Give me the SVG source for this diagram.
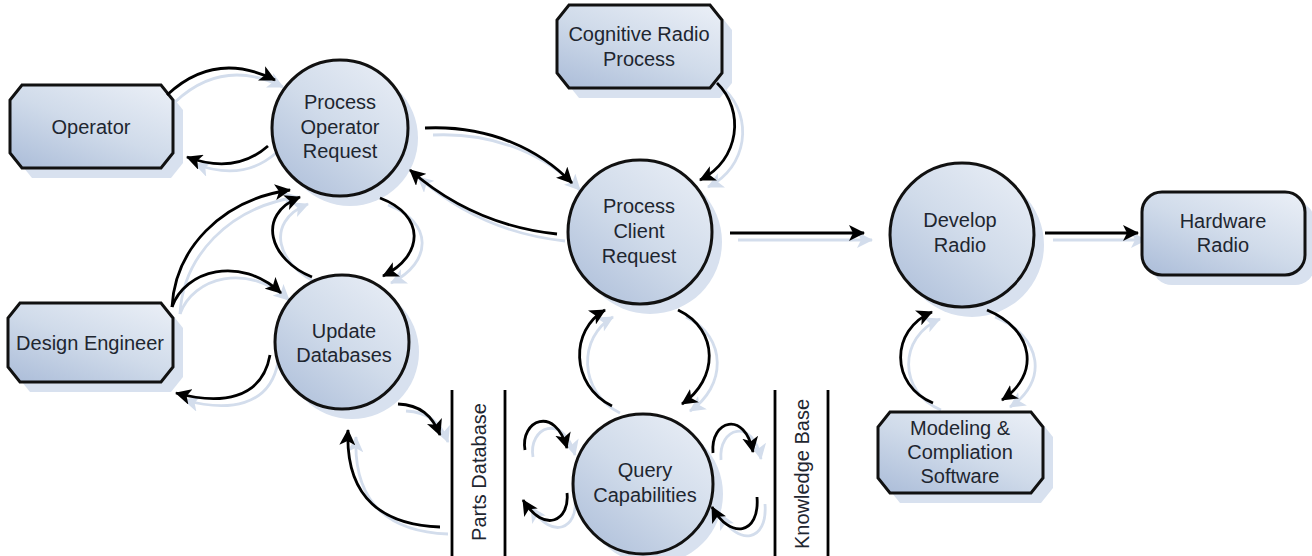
<svg xmlns="http://www.w3.org/2000/svg" width="1312" height="556" viewBox="0 0 1312 556">
<defs>
<linearGradient id="fill" x1="0.9" y1="0" x2="0.1" y2="1">
<stop offset="0" stop-color="#e9eef6"/>
<stop offset="0.5" stop-color="#d0dbea"/>
<stop offset="1" stop-color="#aebfda"/>
</linearGradient>
<marker id="ah" markerWidth="18" markerHeight="16" refX="15" refY="8" orient="auto" markerUnits="userSpaceOnUse">
<path d="M0,0 L16,8 L0,16 L4,8 z" fill="#000"/>
</marker>
<marker id="ahs" markerWidth="18" markerHeight="16" refX="15" refY="8" orient="auto" markerUnits="userSpaceOnUse">
<path d="M0,0 L16,8 L0,16 L4,8 z" fill="#d3ddec"/>
</marker>
</defs>
<style>
.shape{fill:url(#fill);stroke:#111;stroke-width:3}
.shadow{fill:#d8e1ef;stroke:none}
.lbl{font-family:"Liberation Sans",Arial,sans-serif;font-size:20px;fill:#1e2630;text-anchor:middle;dominant-baseline:central}
.c{fill:none;stroke:#000;stroke-width:2.8;marker-end:url(#ah)}
.cs{fill:none;stroke:#d3ddec;stroke-width:2.8;marker-end:url(#ahs)}
.bar{stroke:#000;stroke-width:2.8}
</style>
<rect width="1312" height="556" fill="#fff"/>

<g id="connector-shadows" transform="translate(8,7)">
<path class="cs" d="M167,95 Q215,50 275,80"/>
<path class="cs" d="M268,146 Q235,175 187,157"/>
<path class="cs" d="M172,307 C175,250 220,200 290,190"/>
<path class="cs" d="M172,307 C185,270 240,255 281,293"/>
<path class="cs" d="M312,277 C270,260 255,215 300,197"/>
<path class="cs" d="M380,198 C425,215 425,255 383,276"/>
<path class="cs" d="M270,355 C262,400 220,405 176,393"/>
<path class="cs" d="M440,527 C385,525 345,500 348,430"/>
<path class="cs" d="M398,404 C420,405 432,415 440,435"/>
<path class="cs" d="M425,128 C490,125 540,150 572,183"/>
<path class="cs" d="M557,234 C500,228 450,205 410,170"/>
<path class="cs" d="M717,83 C745,110 740,160 700,180"/>
<path class="cs" d="M730,233 L864,233"/>
<path class="cs" d="M1045,233 L1138,233"/>
<path class="cs" d="M678,310 C720,330 718,380 682,404"/>
<path class="cs" d="M612,406 C570,385 570,330 605,310"/>
<path class="cs" d="M525,450 C520,420 555,405 567,448"/>
<path class="cs" d="M567,493 C570,520 545,535 523,500"/>
<path class="cs" d="M713,453 C710,420 745,410 753,452"/>
<path class="cs" d="M757,497 C760,535 730,540 712,507"/>
<path class="cs" d="M987,310 C1035,330 1040,375 1002,400"/>
<path class="cs" d="M933,403 C890,385 890,330 932,312"/>
</g>

<g id="shadows">
<polygon class="shadow" transform="translate(10,10)" points="22,85 161,85 173,100 173,153 161,168 22,168 10,153 10,100"/>
<polygon class="shadow" transform="translate(10,10)" points="20,303 161,303 173,318 173,367 161,382 20,382 8,367 8,318"/>
<polygon class="shadow" transform="translate(10,10)" points="569,5 710,5 722,20 722,73 710,88 569,88 557,73 557,20"/>
<polygon class="shadow" transform="translate(10,10)" points="890,412 1031,412 1043,427 1043,478 1031,493 890,493 878,478 878,427"/>
<rect class="shadow" x="1152" y="202" width="163" height="83" rx="20"/>
<circle class="shadow" cx="350" cy="138" r="68"/>
<circle class="shadow" cx="352" cy="352" r="67"/>
<circle class="shadow" cx="650" cy="242" r="72"/>
<circle class="shadow" cx="653" cy="494" r="70"/>
<circle class="shadow" cx="972" cy="245" r="72"/>
</g>

<g id="node-operator">
<polygon class="shape" points="22,85 161,85 173,100 173,153 161,168 22,168 10,153 10,100"/>
<text class="lbl" x="91" y="127">Operator</text>
</g>
<g id="node-design-engineer">
<polygon class="shape" points="20,303 161,303 173,318 173,367 161,382 20,382 8,367 8,318"/>
<text class="lbl" x="90" y="343">Design Engineer</text>
</g>
<g id="node-cognitive-radio-process">
<polygon class="shape" points="569,5 710,5 722,20 722,73 710,88 569,88 557,73 557,20"/>
<text class="lbl" x="639" y="34">Cognitive Radio</text>
<text class="lbl" x="639" y="59">Process</text>
</g>
<g id="node-modeling">
<polygon class="shape" points="890,412 1031,412 1043,427 1043,478 1031,493 890,493 878,478 878,427"/>
<text class="lbl" x="960" y="428">Modeling &amp;</text>
<text class="lbl" x="960" y="452">Compliation</text>
<text class="lbl" x="960" y="476">Software</text>
</g>
<g id="node-hardware-radio">
<rect class="shape" x="1142" y="192" width="163" height="83" rx="20"/>
<text class="lbl" x="1223" y="221">Hardware</text>
<text class="lbl" x="1223" y="245">Radio</text>
</g>
<g id="node-process-operator-request">
<circle class="shape" cx="340" cy="128" r="68"/>
<text class="lbl" x="340" y="102">Process</text>
<text class="lbl" x="340" y="127">Operator</text>
<text class="lbl" x="340" y="151">Request</text>
</g>
<g id="node-update-databases">
<circle class="shape" cx="342" cy="342" r="67"/>
<text class="lbl" x="344" y="331">Update</text>
<text class="lbl" x="344" y="355">Databases</text>
</g>
<g id="node-process-client-request">
<circle class="shape" cx="640" cy="232" r="72"/>
<text class="lbl" x="639" y="206">Process</text>
<text class="lbl" x="639" y="231">Client</text>
<text class="lbl" x="639" y="256">Request</text>
</g>
<g id="node-query-capabilities">
<circle class="shape" cx="643" cy="484" r="70"/>
<text class="lbl" x="645" y="470">Query</text>
<text class="lbl" x="645" y="495">Capabilities</text>
</g>
<g id="node-develop-radio">
<circle class="shape" cx="962" cy="235" r="72"/>
<text class="lbl" x="960" y="220">Develop</text>
<text class="lbl" x="960" y="245">Radio</text>
</g>
<g id="node-parts-database">
<line class="bar" x1="452" y1="390" x2="452" y2="556"/>
<line class="bar" x1="505" y1="390" x2="505" y2="556"/>
<text class="lbl" transform="translate(479,472) rotate(-90)">Parts Database</text>
</g>
<g id="node-knowledge-base">
<line class="bar" x1="775" y1="390" x2="775" y2="556"/>
<line class="bar" x1="828" y1="390" x2="828" y2="556"/>
<text class="lbl" transform="translate(802,474) rotate(-90)">Knowledge Base</text>
</g>

<g id="connectors">
<path class="c" d="M167,95 Q215,50 275,80"/>
<path class="c" d="M268,146 Q235,175 187,157"/>
<path class="c" d="M172,307 C175,250 220,200 290,190"/>
<path class="c" d="M172,307 C185,270 240,255 281,293"/>
<path class="c" d="M312,277 C270,260 255,215 300,197"/>
<path class="c" d="M380,198 C425,215 425,255 383,276"/>
<path class="c" d="M270,355 C262,400 220,405 176,393"/>
<path class="c" d="M440,527 C385,525 345,500 348,430"/>
<path class="c" d="M398,404 C420,405 432,415 440,435"/>
<path class="c" d="M425,128 C490,125 540,150 572,183"/>
<path class="c" d="M557,234 C500,228 450,205 410,170"/>
<path class="c" d="M717,83 C745,110 740,160 700,180"/>
<path class="c" d="M730,233 L864,233"/>
<path class="c" d="M1045,233 L1138,233"/>
<path class="c" d="M678,310 C720,330 718,380 682,404"/>
<path class="c" d="M612,406 C570,385 570,330 605,310"/>
<path class="c" d="M525,450 C520,420 555,405 567,448"/>
<path class="c" d="M567,493 C570,520 545,535 523,500"/>
<path class="c" d="M713,453 C710,420 745,410 753,452"/>
<path class="c" d="M757,497 C760,535 730,540 712,507"/>
<path class="c" d="M987,310 C1035,330 1040,375 1002,400"/>
<path class="c" d="M933,403 C890,385 890,330 932,312"/>
</g>
</svg>
